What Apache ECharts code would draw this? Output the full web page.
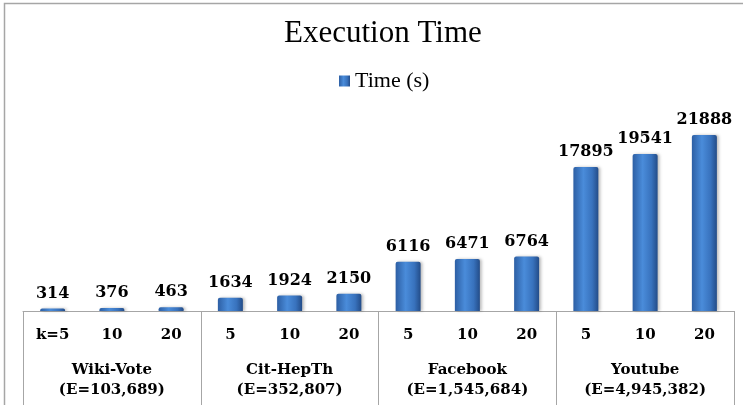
<!DOCTYPE html>
<html>
<head>
<meta charset="utf-8">
<script src="https://cdn.jsdelivr.net/npm/echarts@6/dist/echarts.min.js"></script>
<style>
  html, body { margin: 0; padding: 0; background: #fff; }
  #chart { width: 743px; height: 405px; }
</style>
</head>
<body>
<div id="chart"></div>
<script>
const kLabels = ['k=5', '10', '20', '5', '10', '20', '5', '10', '20', '5', '10', '20'];
const datasets = ['Wiki-Vote\n(E=103,689)', 'Cit-HepTh\n(E=352,807)', 'Facebook\n(E=1,545,684)', 'Youtube\n(E=4,945,382)'];
const times = [314, 376, 463, 1634, 1924, 2150, 6116, 6471, 6764, 17895, 19541, 21888];

const labelFont = 'DejaVu Serif';
const barColor = new echarts.graphic.LinearGradient(0, 0, 1, 0, [
  { offset: 0, color: '#2d5fa4' },
  { offset: 0.4, color: '#4a8cda' },
  { offset: 0.75, color: '#3872bd' },
  { offset: 1, color: '#234c88' }
]);

const chart = echarts.init(document.getElementById('chart'));
chart.setOption({
  animation: false,
  title: {
    text: 'Execution Time',
    left: 279,
    top: 13,
    textStyle: { fontFamily: 'Liberation Serif', fontSize: 31, fontWeight: 'normal', color: '#000' }
  },
  legend: {
    top: 65,
    left: 334,
    itemWidth: 11,
    itemHeight: 11,
    itemGap: 4,
    textStyle: { fontFamily: 'Liberation Serif', fontSize: 22, color: '#000' },
    data: [{ name: 'Time (s)', icon: 'rect' }]
  },
  graphic: [{
    type: 'rect',
    silent: true,
    shape: { x: 4.5, y: 3.5, width: 800, height: 500 },
    style: { fill: 'none', stroke: '#a6a6a6', lineWidth: 1.5 }
  }],
  grid: { left: 23, right: 9, top: 110, bottom: 94 },
  xAxis: [
    {
      type: 'category',
      data: kLabels,
      axisLine: { lineStyle: { color: '#a6a6a6', width: 1 } },
      axisTick: { show: false },
      axisLabel: {
        interval: 0,
        margin: 17,
        fontFamily: labelFont,
        fontSize: 15,
        fontWeight: 'bold',
        color: '#000'
      }
    },
    {
      type: 'category',
      data: datasets,
      position: 'bottom',
      axisLine: { show: false },
      axisTick: { show: true, length: 110, interval: 0, lineStyle: { color: '#a6a6a6', width: 1 } },
      axisLabel: {
        interval: 0,
        margin: 49,
        fontFamily: labelFont,
        fontSize: 15,
        fontWeight: 'bold',
        lineHeight: 20,
        color: '#000'
      }
    }
  ],
  yAxis: {
    type: 'value',
    min: 0,
    max: 25000,
    show: false,
    splitLine: { show: false }
  },
  series: [{
    name: 'Time (s)',
    type: 'bar',
    data: times,
    barWidth: 25,
    itemStyle: {
      color: barColor,
      borderRadius: [2, 2, 0, 0],
      shadowColor: 'rgba(0,0,0,0.25)',
      shadowBlur: 3,
      shadowOffsetX: 2
    },
    label: {
      show: true,
      position: 'top',
      distance: 7,
      fontFamily: labelFont,
      fontSize: 16,
      fontWeight: 'bold',
      color: '#000'
    }
  }]
});
</script>
</body>
</html>
